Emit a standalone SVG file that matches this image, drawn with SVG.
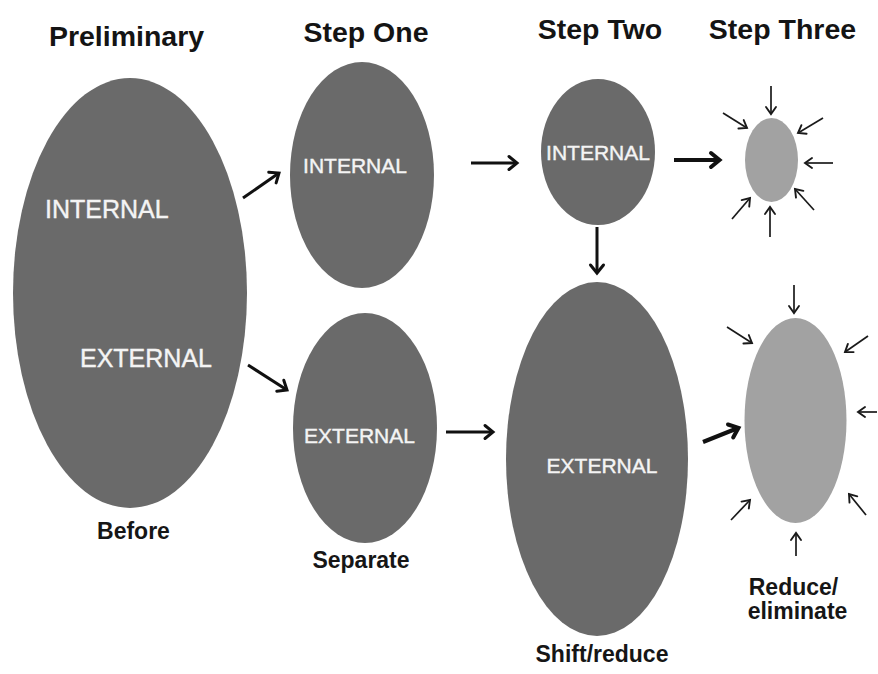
<svg xmlns="http://www.w3.org/2000/svg" width="878" height="674" viewBox="0 0 878 674">
<style>
  .dark { fill: #6a6a6a; }
  .light { fill: #a2a2a2; }
  .title { font-family: "Liberation Sans", Arial, sans-serif; font-weight: bold; font-size: 28.5px; fill: #141414; text-anchor: middle; }
  .lbl { font-family: "Liberation Sans", Arial, sans-serif; font-size: 21px; fill: #f4f4f4; stroke: #f4f4f4; stroke-width: 0.4; text-anchor: middle; }
  .lbl-big { font-size: 25px; text-anchor: start; }
  .cap { font-family: "Liberation Sans", Arial, sans-serif; font-weight: bold; font-size: 23px; fill: #161616; text-anchor: middle; }
  .arr { fill: none; stroke: #111; stroke-width: 3; marker-end: url(#head); }
  .arr-thick { fill: none; stroke: #111; stroke-width: 4.2; marker-end: url(#headThick); }
  .arr-thin { fill: none; stroke: #1a1a1a; stroke-width: 1.7; marker-end: url(#headThin); }
</style>
<defs>
  <marker id="head" markerUnits="userSpaceOnUse" viewBox="0 0 16 16" markerWidth="16" markerHeight="16" refX="13" refY="8" orient="auto" overflow="visible">
    <path d="M5,1.5 L13,8 L5,14.5" fill="none" stroke="#111" stroke-width="3" stroke-linecap="round"/>
  </marker>
  <marker id="headThick" markerUnits="userSpaceOnUse" viewBox="0 0 16 16" markerWidth="16" markerHeight="16" refX="13" refY="8" orient="auto" overflow="visible">
    <path d="M5,1 L13.5,8 L5,15" fill="none" stroke="#111" stroke-width="4" stroke-linecap="round"/>
  </marker>
  <marker id="headThin" markerUnits="userSpaceOnUse" viewBox="0 0 12 12" markerWidth="12" markerHeight="12" refX="10" refY="6" orient="auto" overflow="visible">
    <path d="M3,1 L10,6 L3,11" fill="none" stroke="#1a1a1a" stroke-width="1.9" stroke-linecap="round"/>
  </marker>
</defs>
<rect width="878" height="674" fill="#ffffff"/>

<g id="titles">
  <text class="title" x="126.5" y="46">Preliminary</text>
  <text class="title" x="366" y="42">Step One</text>
  <text class="title" x="600" y="39">Step Two</text>
  <text class="title" x="782.5" y="39">Step Three</text>
</g>

<g id="preliminary">
  <ellipse class="dark" cx="130" cy="293" rx="117" ry="215"/>
  <text class="lbl lbl-big" x="45" y="218">INTERNAL</text>
  <text class="lbl lbl-big" x="80" y="367">EXTERNAL</text>
  <text class="cap" x="133.5" y="539">Before</text>
</g>

<g id="step1-internal">
  <ellipse class="dark" cx="362" cy="175" rx="72" ry="113"/>
  <text class="lbl" x="355" y="173">INTERNAL</text>
</g>

<g id="step1-external">
  <ellipse class="dark" cx="365" cy="428" rx="72" ry="115"/>
  <text class="lbl" x="359.5" y="443">EXTERNAL</text>
  <text class="cap" x="361" y="568">Separate</text>
</g>

<g id="step2-internal">
  <ellipse class="dark" cx="598" cy="152" rx="57" ry="73"/>
  <text class="lbl" x="598" y="160">INTERNAL</text>
</g>

<g id="step2-external">
  <ellipse class="dark" cx="597" cy="459" rx="91" ry="177"/>
  <text class="lbl" x="602" y="473">EXTERNAL</text>
  <text class="cap" x="602" y="662">Shift/reduce</text>
</g>

<g id="step3-internal">
  <ellipse class="light" cx="771.5" cy="160" rx="26.5" ry="42"/>
</g>

<g id="step3-external">
  <ellipse class="light" cx="795.5" cy="420.5" rx="51" ry="102.5"/>
  <text class="cap" x="793.5" y="595">Reduce/</text>
  <text class="cap" x="797.5" y="619">eliminate</text>
</g>

<g id="connectors">
  <path class="arr" d="M243,198 L279,173"/>
  <path class="arr" d="M248,365 L287,390"/>
  <path class="arr" d="M471,163 L517,163"/>
  <path class="arr" d="M446,432 L493,432"/>
  <path class="arr" d="M597,227 L597,273"/>
  <path class="arr-thick" d="M674,160 L719,160"/>
  <path class="arr-thick" d="M703,442 L738,428"/>

  <path class="arr-thin" d="M771,86 L771,114"/>
  <path class="arr-thin" d="M723,113 L747,128"/>
  <path class="arr-thin" d="M823,118 L798,133"/>
  <path class="arr-thin" d="M833,163 L805,163"/>
  <path class="arr-thin" d="M814,210 L795,189"/>
  <path class="arr-thin" d="M770,237 L770,207"/>
  <path class="arr-thin" d="M732,219 L750,198"/>

  <path class="arr-thin" d="M794,285 L794,313"/>
  <path class="arr-thin" d="M727,327 L752,343"/>
  <path class="arr-thin" d="M868,336 L845,352"/>
  <path class="arr-thin" d="M877,412 L858,412"/>
  <path class="arr-thin" d="M731,520 L750,500"/>
  <path class="arr-thin" d="M866,515 L849,494"/>
  <path class="arr-thin" d="M796,556 L796,533"/>
</g>
</svg>
